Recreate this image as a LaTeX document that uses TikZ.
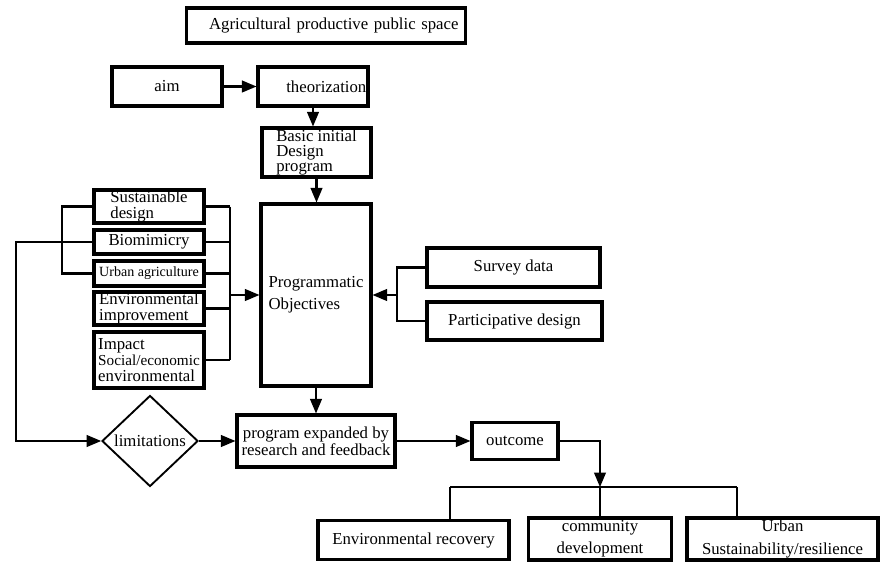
\documentclass[tikz,border=0pt]{standalone}
\usepackage{fontspec}
\setmainfont{Liberation Serif}
\usetikzlibrary{arrows, shapes.geometric, calc}
\tikzset{>=triangle 45}
\tikzset{box/.style={draw, line width=2.8pt, inner sep=1pt, align=center}}
\tikzset{decision/.style={draw, diamond, line width=1.6pt, inner sep=0pt}}

\begin{document}
\begin{tikzpicture}
    [x=0.03cm, y=-0.03cm,
      line width=1.9pt,
      every node/.style={font=\fontsize{14.3}{14.5}\selectfont},
      tight/.style={font=\fontsize{14.3}{13}\selectfont},
      wide/.style={font=\fontsize{14.3}{18.8}\selectfont}]

    \useasboundingbox (0,0) rectangle (884,562);

    \node[box, line width=3pt, text width=7.95cm, inner xsep=6pt, align=right, minimum height=1.05cm]
    at (326,25.5) (T) {Agricultural productive public space};

    \node[box, minimum width=3.3cm, minimum height=1.17cm] at (167,86.5) (aim) {aim};
    \node[box, text width=3.2cm, inner xsep=1.4pt, align=right, minimum height=1.17cm]
    at (313,86.5) (theo) {theorization};
    \node[box, minimum width=3.27cm, minimum height=1.47cm, align=left, tight]
    at (316.5,152.5) (basic) {Basic initial\\Design\\program};
    \node[box, minimum width=3.3cm, minimum height=5.46cm, align=left, wide]
    at (316,295) (prog) {Programmatic\\Objectives};

    % left column
    \node[box, minimum width=3.3cm, minimum height=0.99cm, align=left, tight]
    at (149,206.5) (sd) {Sustainable\\design};
    \node[box, minimum width=3.3cm, minimum height=0.72cm] at (149,242) (bio) {Biomimicry};
    \node[box, minimum width=3.3cm, minimum height=0.75cm, font=\fontsize{12}{12}\selectfont]
    at (149,273.5) (ua) {Urban agriculture};
    \node[box, minimum width=3.3cm, minimum height=0.99cm, align=left, tight]
    at (149,308.5) (ei) {Environmental\\improvement};
    \node[box, minimum width=3.3cm, minimum height=1.68cm, align=left, font=\fontsize{14.3}{13.6}\selectfont]
    at (149,360) (imp) {Impact\\{\fontsize{13}{13.6}\selectfont Social/economic}\\environmental};

    % right column
    \node[box, minimum width=5.19cm, minimum height=1.17cm] at (513.5,267.5) (sur) {Survey data};
    \node[box, minimum width=5.25cm, minimum height=1.14cm] at (514.5,321) (par) {Participative design};

    % lower row
    \node[decision, minimum width=2.88cm, minimum height=2.73cm] at (150,441) (lim) {limitations};
    \node[box, minimum width=4.74cm, minimum height=1.56cm] at (316,441) (exp) {program expanded by\\research and feedback};
    \node[box, minimum width=2.58cm, minimum height=1.11cm] at (515,441) (out) {outcome};

    \node[box, minimum width=5.73cm, minimum height=1.17cm] at (413.5,540) (env) {Environmental recovery};
    \node[box, minimum width=4.29cm, minimum height=1.26cm, wide] at (600,539) (com) {community\\development};
    \node[box, minimum width=5.73cm, minimum height=1.26cm, wide] at (782.5,539) (urb) {Urban\\Sustainability/resilience};

    \coordinate (lb) at (62,242);
    \coordinate (rb) at (230,295);
    \coordinate (fb) at (16,441);
    \coordinate (sb) at (397,295);
    \coordinate (ob) at (600,487);
    \coordinate (bl) at (450,487);
    \coordinate (br) at (737,487);

    \draw[->] (aim) -- (theo);
    \draw[->] (theo.south) -- (theo.south |- basic.north);
    \draw[->] (basic.south) -- (basic.south |- prog.north);
    \draw[->] (prog) -- (exp);

    \draw (sd.east) -- (sd.east -| rb);
    \draw (bio.east) -- (bio.east -| rb);
    \draw (ua.east) -- (ua.east -| rb);
    \draw (ei.east) -- (ei.east -| rb);
    \draw (imp.east) -- (imp.east -| rb);
    \draw (sd.east -| rb) -- (imp.east -| rb);
    \draw[->] (rb) -- (rb -| prog.west);

    \draw (sd.west) -| (lb);
    \draw (ua.west) -| (lb);
    \draw[->] (bio.west) -| (fb) -- (lim);

    \draw (sur.west) -| (sb);
    \draw (par.west) -| (sb);
    \draw[->] (sb) -- (sb -| prog.east);

    \draw[->] (lim) -- (exp);
    \draw[->] (exp) -- (out);
    \draw[->] (out.east) -| (ob);

    \draw (bl) -- (br);
    \draw (bl) -- (bl |- env.north);
    \draw (ob) -- (com.north);
    \draw (br) -- (br |- urb.north);
  \end{tikzpicture}
\end{document}
